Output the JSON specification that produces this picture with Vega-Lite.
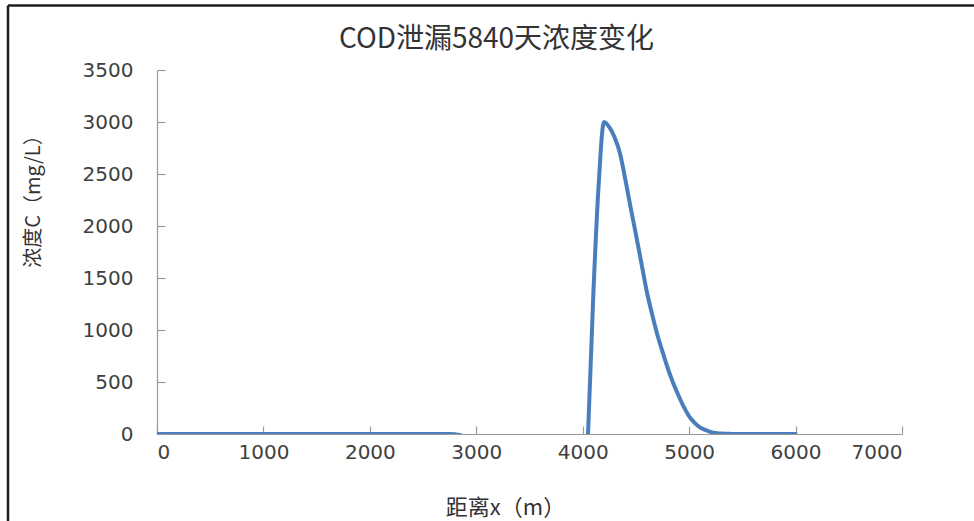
{
  "$schema": "https://vega.github.io/schema/vega-lite/v6.json",
  "width": 745,
  "height": 364,
  "autosize": {"type": "none"},
  "padding": {"left": 157, "top": 70, "right": 72, "bottom": 87},
  "background": "white",
  "title": {
    "text": "COD泄漏5840天浓度变化",
    "font": "Noto Sans CJK SC",
    "fontSize": 28,
    "fontWeight": "normal",
    "color": "#333333",
    "anchor": "middle",
    "frame": "group",
    "baseline": "middle",
    "dx": -33,
    "offset": 14,
    "dy": 78
  },
  "config": {
    "view": {"stroke": null},
    "axis": {
      "grid": false,
      "domainColor": "#9a9a9a",
      "domainWidth": 1.2,
      "tickColor": "#9a9a9a",
      "tickWidth": 1.2,
      "tickSize": -8,
      "format": "d",
      "labelFont": "DejaVu Sans",
      "labelFontSize": 20,
      "labelColor": "#404040",
      "titleFont": "Noto Sans CJK SC",
      "titleFontSize": 20,
      "titleFontWeight": "normal",
      "titleColor": "#333333"
    }
  },
  "datasets": {
    "curve": [
      {"x": 0, "c": 0, "seg": "a"},
      {"x": 500, "c": 0, "seg": "a"},
      {"x": 1000, "c": 0, "seg": "a"},
      {"x": 1500, "c": 0, "seg": "a"},
      {"x": 2000, "c": 0, "seg": "a"},
      {"x": 2500, "c": 0, "seg": "a"},
      {"x": 2750, "c": 0, "seg": "a"},
      {"x": 2850, "c": -12, "seg": "a"},
      {"x": 2900, "c": -40, "seg": "a"},
      {"x": 4050, "c": 0, "seg": "b"},
      {"x": 4100, "c": 1350, "seg": "b"},
      {"x": 4150, "c": 2400, "seg": "b"},
      {"x": 4200, "c": 3000, "seg": "b"},
      {"x": 4250, "c": 2950, "seg": "b"},
      {"x": 4300, "c": 2850, "seg": "b"},
      {"x": 4350, "c": 2700, "seg": "b"},
      {"x": 4400, "c": 2450, "seg": "b"},
      {"x": 4450, "c": 2180, "seg": "b"},
      {"x": 4500, "c": 1920, "seg": "b"},
      {"x": 4550, "c": 1650, "seg": "b"},
      {"x": 4600, "c": 1380, "seg": "b"},
      {"x": 4650, "c": 1160, "seg": "b"},
      {"x": 4700, "c": 960, "seg": "b"},
      {"x": 4750, "c": 790, "seg": "b"},
      {"x": 4800, "c": 630, "seg": "b"},
      {"x": 4850, "c": 490, "seg": "b"},
      {"x": 4900, "c": 370, "seg": "b"},
      {"x": 4950, "c": 260, "seg": "b"},
      {"x": 5000, "c": 170, "seg": "b"},
      {"x": 5050, "c": 110, "seg": "b"},
      {"x": 5100, "c": 65, "seg": "b"},
      {"x": 5150, "c": 40, "seg": "b"},
      {"x": 5200, "c": 20, "seg": "b"},
      {"x": 5250, "c": 10, "seg": "b"},
      {"x": 5300, "c": 4, "seg": "b"},
      {"x": 5400, "c": 1, "seg": "b"},
      {"x": 5500, "c": 0, "seg": "b"},
      {"x": 6000, "c": 0, "seg": "b"}
    ],
    "frame": [{"edge": "border"}]
  },
  "layer": [
    {
      "data": {"name": "curve"},
      "mark": {"type": "line", "color": "#4a7ebb", "strokeWidth": 4, "clip": true, "strokeCap": "round", "strokeJoin": "round", "interpolate": "monotone"},
      "encoding": {
        "x": {
          "field": "x", "type": "quantitative",
          "scale": {"domain": [0, 7000], "nice": false, "zero": false},
          "axis": {
            "values": [0, 1000, 2000, 3000, 4000, 5000, 6000, 7000],
            "labelPadding": 16,
            "title": "距离x（m）",
            "titleFontSize": 22,
            "titleX": 348, "titleY": 73,
            "titleAlign": "center", "titleBaseline": "middle"
          }
        },
        "y": {
          "field": "c", "type": "quantitative",
          "scale": {"domain": [0, 3500], "nice": false, "zero": false},
          "axis": {
            "values": [0, 500, 1000, 1500, 2000, 2500, 3000, 3500],
            "labelPadding": 32,
            "title": "浓度C（mg/L）",
            "titleX": -124, "titleY": 126,
            "titleAngle": -90,
            "titleAlign": "center", "titleBaseline": "middle"
          }
        },
        "detail": {"field": "seg"}
      }
    },
    {
      "data": {"name": "frame"},
      "mark": {"type": "rule", "color": "#1e1e1e", "strokeWidth": 2.5, "clip": false},
      "encoding": {
        "x": {"datum": -1400, "type": "quantitative"},
        "y": {"datum": -900, "type": "quantitative"},
        "y2": {"datum": 4120}
      }
    },
    {
      "data": {"name": "frame"},
      "mark": {"type": "rule", "color": "#1e1e1e", "strokeWidth": 2.5, "clip": false},
      "encoding": {
        "x": {"datum": -1400, "type": "quantitative"},
        "x2": {"datum": 8600},
        "y": {"datum": 4120, "type": "quantitative"}
      }
    }
  ]
}
